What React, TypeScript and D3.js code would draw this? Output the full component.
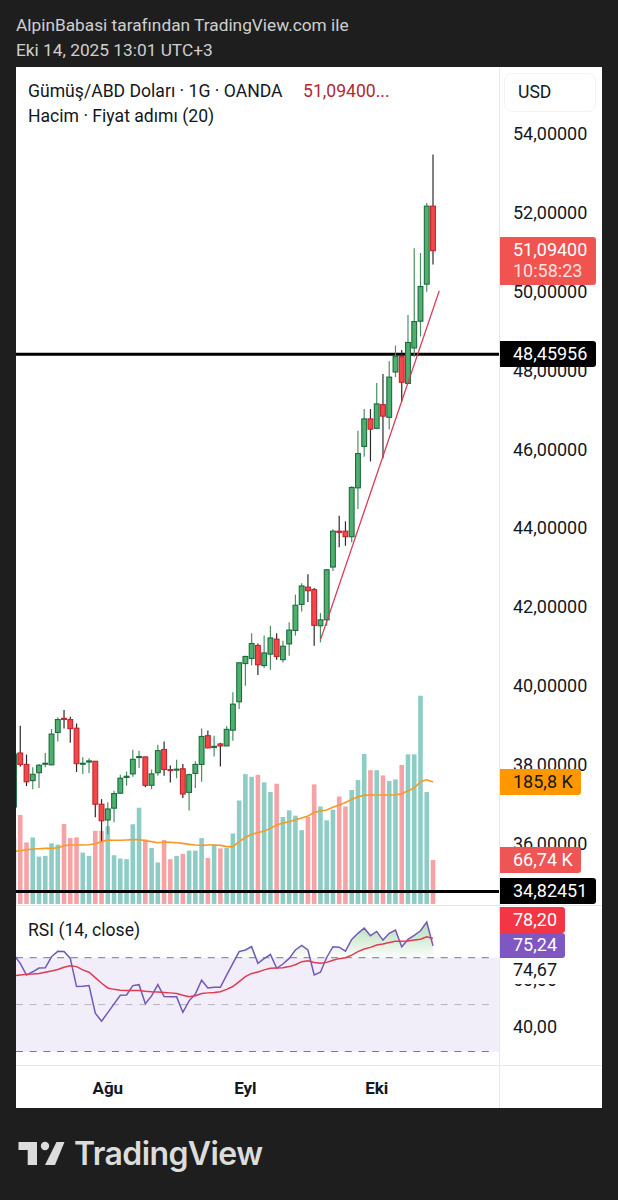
import * as React from 'react';
import * as d3 from 'd3';

// candle series, left to right (last one is Eki 14)
const opens = [36.97,38.34,38.05,37.64,37.84,38.06,38.04,38.86,39.22,39.19,38.97,38.06,38.11,38.13,37.04,36.64,36.94,37.32,37.72,37.81,38.23,38.24,37.52,37.84,38.43,37.92,37.92,37.94,37.34,37.82,38.05,38.78,38.48,38.57,38.52,38.92,39.64,40.61,40.74,41.07,40.56,40.85,41.23,40.71,41.11,41.45,42.11,42.55,42.49,41.57,41.72,43.06,43.97,43.97,43.83,45.07,46.12,46.82,46.58,47.18,46.86,48.01,48.40,47.72,48.62,49.30,50.24,52.22];
const closes = [38.31,38.05,37.61,37.80,38.03,38.08,38.82,39.19,39.19,38.96,38.07,38.08,38.14,37.04,36.62,36.92,37.31,37.70,37.75,38.18,38.25,37.52,37.81,38.40,37.92,37.91,37.93,37.30,37.79,38.05,38.76,38.47,38.51,38.52,38.94,39.58,40.63,40.79,41.12,40.58,40.88,41.26,40.79,41.05,41.46,42.09,42.58,42.46,41.58,41.72,42.99,43.97,43.94,43.83,45.08,45.94,46.82,46.56,47.20,46.89,47.88,48.40,47.75,48.76,49.29,50.18,52.22,51.09];
const highs = [38.40,39.03,38.30,37.98,38.06,38.34,38.95,39.24,39.43,39.26,39.09,38.23,38.21,38.14,37.17,37.09,37.38,37.79,37.87,38.42,38.40,38.25,37.92,38.55,38.63,38.02,38.17,38.06,37.82,38.13,38.96,38.91,38.78,38.60,39.02,39.88,40.63,40.81,41.38,41.12,41.32,41.57,41.38,41.19,41.66,42.36,42.65,42.88,42.53,41.89,43.01,44.02,44.36,44.22,45.11,46.52,47.07,47.07,47.73,47.96,48.28,48.68,48.57,49.46,51.15,51.03,52.30,53.53];
const lows = [36.94,37.99,37.50,37.42,37.45,37.98,38.03,38.63,38.96,38.60,37.86,37.81,37.83,36.71,36.11,36.28,36.58,37.30,37.51,37.74,37.96,37.47,37.42,37.76,37.76,37.59,37.70,37.20,36.88,37.45,37.61,38.46,38.25,38.00,38.51,38.65,39.46,40.05,40.56,40.32,40.50,40.45,40.71,40.64,40.81,41.32,41.93,42.17,41.06,41.15,41.57,42.96,43.56,43.60,43.69,44.53,45.86,45.74,46.56,45.82,46.55,47.88,47.26,47.72,48.40,48.91,50.05,50.74];

// volume in thousands and its 20 period average
const volumes = [100,135,93.5,101,72,73,92,90,121.3,100,101,78,73,111,111,118,74,69,68,121,146,98,85,63,97,68,73,76,81,81,100,70,90,84.4,85,107,157,197,193,196,184.5,170,182.5,132,142,134,112,132,181.5,148,127,143,163,148,173,188,227.5,203,203,195,186.5,189,211,227,227,316,170,66.7];
const volumeMa = [80,80.9,82.4,83.4,83.9,84.4,84.4,85.4,88.5,89.5,89.5,89.5,90,91.5,94.6,97,96.6,96.6,97,97.6,97.6,96,94.6,93,94,93.5,93,92,90.5,89.5,89,89.5,89.5,88.9,87,87,94.5,101,106,108,110.7,114.7,119.8,122.8,124.8,127.9,130.4,133.4,139,141,142.5,146.6,150,154,158.7,162.8,164.8,165.3,165.3,165.3,165.3,165.8,167.3,171.8,175.9,185.5,188.5,185];

const rsi = [71.1,67.6,62.6,64.0,65.6,65.7,70.4,72.7,72.6,69.7,57.7,57.8,58.1,46.3,42.9,46.6,50.3,54.0,54.1,58.1,58.5,50.4,53.7,58.5,53.4,53.3,53.3,46.7,51.6,54.5,60.4,57.1,57.4,57.4,62.6,67.6,72.6,73.3,74.7,67.6,69.6,71.4,65.5,67.3,69.7,73.3,75.2,73.3,62.6,63.8,70.1,74.7,74.5,72.8,77.8,80.4,82.6,79.4,81.2,77.5,80.4,81.8,74.7,77.8,79.5,81.5,85.2,75.1];
const rsiMa = [62.3,62.6,62.9,63.0,63.3,63.8,64.3,65.0,65.9,66.6,66.2,64.8,63.8,61.5,59.1,57.1,56.5,56.1,56.0,56.0,56.0,55.7,55.5,55.4,55.2,55.0,54.7,54.0,53.4,53.8,54.7,55.0,55.2,55.5,56.5,57.7,59.8,61.9,63.3,63.9,64.8,65.5,65.6,65.7,66.2,67.0,68.3,68.7,68.0,67.6,68.0,68.9,69.6,70.0,71.1,72.6,73.7,74.4,75.4,75.8,76.5,77.0,77.0,77.1,77.5,77.9,78.9,78.2];

const priceTicks = [54,52,50,48,46,44,42,40,38,36];
const rsiTicks = [60,40];
const rsiBands = [70,50,30];
const monthLabels = ['Ağu','Eyl','Eki'];
const monthIndex = [15,37,58];
const levels = [48.45956,34.82451];
const trendIndex = [49.05,68];
const trendPrice = [41.23,50.07];

const W = 618;
const H = 1200;
const FONT = 'Roboto, sans-serif';

const comma = (s: string) => s.replace('.', ',');

export default function App() {
  const root = React.useRef<SVGSVGElement>(null);

  React.useEffect(() => {
    const svg = d3.select(root.current);
    svg.selectAll('*').remove();

    const x = d3.scaleLinear().domain([0, 67]).range([14, 433]);
    const y = d3.scaleLinear().domain([34, 54]).range([136 + 20 * 39.4, 136]);
    const v = d3.scaleLinear().domain([0, 316]).range([904, 695.7]);
    const r = d3.scaleLinear().domain([30, 70]).range([1051.5, 957.7]);

    const txt = (t: string, px: number, py: number, size: number, fill: string, weight = 400) =>
      svg.append('text').attr('x', px).attr('y', py).attr('font-size', size)
        .attr('font-family', FONT).attr('font-weight', weight).attr('fill', fill).text(t);

    svg.append('rect').attr('width', W).attr('height', H).attr('fill', '#1e1e1e');
    svg.append('rect').attr('x', 16).attr('y', 67).attr('width', 586).attr('height', 1041).attr('fill', '#fff');

    const defs = svg.append('defs');
    defs.append('clipPath').attr('id', 'plot').append('rect')
      .attr('x', 16).attr('y', 67).attr('width', 483).attr('height', 1000);
    const grad = defs.append('linearGradient').attr('id', 'ob')
      .attr('gradientUnits', 'userSpaceOnUse')
      .attr('x1', 0).attr('x2', 0).attr('y1', 925).attr('y2', r(70));
    grad.append('stop').attr('offset', 0).attr('stop-color', '#4caf50').attr('stop-opacity', 0.4);
    grad.append('stop').attr('offset', 1).attr('stop-color', '#4caf50').attr('stop-opacity', 0.02);

    // header
    txt('AlpinBabasi tarafından TradingView.com ile', 16, 31, 17.3, '#cfcfcf');
    txt('Eki 14, 2025 13:01 UTC+3', 16, 56, 17.3, '#cfcfcf');
    txt('Gümüş/ABD Doları · 1G · OANDA', 28, 97, 17.6, '#131722');
    txt('51,09400...', 303, 97, 17.6, '#b22833');
    txt('Hacim · Fiyat adımı (20)', 28, 122, 17.6, '#131722');

    const plot = svg.append('g').attr('clip-path', 'url(#plot)');

    // volume
    plot.selectAll('rect.vol').data(volumes).enter().append('rect')
      .attr('class', 'vol')
      .attr('x', (_, i) => x(i) - 2.3)
      .attr('width', 4.6)
      .attr('y', d => v(d))
      .attr('height', d => v(0) - v(d))
      .attr('fill', (_, i) => closes[i] < opens[i] ? '#f7a3a5' : '#8dcdc6');

    plot.append('path')
      .attr('d', d3.line<number>().x((_, i) => x(i)).y(d => v(d))(volumeMa))
      .attr('fill', 'none').attr('stroke', '#f79a24').attr('stroke-width', 1.6);

    // horizontal levels go under the candles
    levels.forEach(l => {
      plot.append('line').attr('x1', 16).attr('x2', 499).attr('y1', y(l)).attr('y2', y(l))
        .attr('stroke', '#000').attr('stroke-width', 3);
    });

    // candles
    const candles = plot.selectAll('g.c').data(opens).enter().append('g').attr('class', 'c');
    candles.append('line')
      .attr('x1', (_, i) => x(i)).attr('x2', (_, i) => x(i))
      .attr('y1', (_, i) => y(highs[i])).attr('y2', (_, i) => y(lows[i]))
      .attr('stroke', (_, i) => closes[i] < opens[i] ? '#2e2a2a' : '#4b8f5e')
      .attr('stroke-width', 1.2);
    candles.append('rect')
      .attr('x', (_, i) => x(i) - 2.4)
      .attr('width', 4.8)
      .attr('y', (d, i) => y(Math.max(d, closes[i])))
      .attr('height', (d, i) => Math.max(1, Math.abs(y(d) - y(closes[i]))))
      .attr('fill', (_, i) => closes[i] < opens[i] ? '#f44747' : '#4fb06c')
      .attr('stroke', (_, i) => closes[i] < opens[i] ? '#c4232f' : '#1d6b42')
      .attr('stroke-width', 1.1);

    // trend line
    plot.append('line')
      .attr('x1', x(trendIndex[0])).attr('y1', y(trendPrice[0]))
      .attr('x2', x(trendIndex[1])).attr('y2', y(trendPrice[1]))
      .attr('stroke', '#d93a55').attr('stroke-width', 1.3);

    // separators
    svg.append('line').attr('x1', 16).attr('x2', 602).attr('y1', 905.5).attr('y2', 905.5).attr('stroke', '#e6e8ea');
    svg.append('line').attr('x1', 16).attr('x2', 602).attr('y1', 1065.5).attr('y2', 1065.5).attr('stroke', '#e6e8ea');
    svg.append('line').attr('x1', 499.5).attr('x2', 499.5).attr('y1', 67).attr('y2', 1108).attr('stroke', '#e6e8ea');

    // RSI pane
    plot.append('rect').attr('x', 16).attr('width', 483).attr('y', r(70)).attr('height', r(30) - r(70)).attr('fill', '#f1edf9');
    plot.append('path')
      .attr('d', d3.area<number>().x((_, i) => x(i)).y0(r(70)).y1(d => r(Math.max(d, 70)))(rsi))
      .attr('fill', 'url(#ob)');
    rsiBands.forEach(b => {
      plot.append('line').attr('x1', 16).attr('x2', 494).attr('y1', r(b)).attr('y2', r(b))
        .attr('stroke', b === 50 ? '#b4b4bc' : '#787b86').attr('stroke-width', 1).attr('stroke-dasharray', '7 6.7');
    });
    plot.append('path')
      .attr('d', d3.line<number>().x((_, i) => x(i)).y(d => r(d))(rsi))
      .attr('fill', 'none').attr('stroke', '#7259b8').attr('stroke-width', 1.5);
    plot.append('path')
      .attr('d', d3.line<number>().x((_, i) => x(i)).y(d => r(d))(rsiMa))
      .attr('fill', 'none').attr('stroke', '#e23a50').attr('stroke-width', 1.5);
    txt('RSI (14, close)', 28, 936, 17.6, '#131722');

    // price axis
    svg.append('rect').attr('x', 504.5).attr('y', 73.5).attr('width', 91).attr('height', 38).attr('rx', 7)
      .attr('fill', '#fff').attr('stroke', '#f2f3f4');
    txt('USD', 518, 98, 17.6, '#131722');
    priceTicks.forEach(t => {
      txt(comma(d3.format('.5f')(t)), 513, y(t) + 4.3, 18, '#131722');
    });
    rsiTicks.forEach(t => {
      txt(comma(d3.format('.2f')(t)), 513, r(t) + 4.5, 18, '#131722');
    });

    const tag = (yTop: number, w: number, h: number, fill: string) =>
      svg.append('path')
        .attr('d', `M500,${yTop}H${500 + w - 3}q3,0 3,3V${yTop + h - 3}q0,3 -3,3H500Z`)
        .attr('fill', fill);

    tag(237, 96, 48, '#f05350');
    txt('51,09400', 513, 256, 18, '#fff');
    txt('10:58:23', 513, 277, 18, '#fde0de');
    tag(341, 96, 26, '#000');
    txt(levels[0].toFixed(5).replace('.', ','), 513, 360, 18, '#fff');
    tag(769, 81, 26, '#ff9800');
    txt('185,8 K', 513, 788, 18, '#131722');
    tag(847, 81, 26, '#ee5555');
    txt('66,74 K', 513, 866, 18, '#fff');
    tag(878, 96, 26, '#000');
    txt(levels[1].toFixed(5).replace('.', ','), 513, 897, 18, '#fff');
    tag(907, 65, 26, '#f23645');
    txt('78,20', 513, 926, 18, '#fff');
    tag(933, 65, 25, '#7e57c2');
    txt('75,24', 513, 951, 18, '#fff');
    svg.append('rect').attr('x', 500).attr('y', 958).attr('width', 80).attr('height', 26).attr('fill', '#fff');
    txt('74,67', 513, 976, 18, '#131722');

    // time axis
    monthLabels.forEach((m, i) => {
      txt(m, x(monthIndex[i]), 1094, 17, '#131722', 700).attr('text-anchor', 'middle');
    });

    // logo
    const logo = svg.append('g').attr('fill', '#dcdcdc');
    logo.append('path').attr('d', 'M18.5,1142H37V1165H27.7V1150H18.5Z');
    logo.append('circle').attr('cx', 45).attr('cy', 1146).attr('r', 4.2);
    logo.append('path').attr('d', 'M56.5,1142H64.5L55,1165H45Z');
    txt('TradingView', 74, 1165, 32, '#dcdcdc', 600).attr('font-family', 'Inter, sans-serif').attr('letter-spacing', -0.6);
  }, []);

  return (
    <svg ref={root} width={W} height={H} style={{ position: 'absolute', left: 0, top: 0 }} />
  );
}
